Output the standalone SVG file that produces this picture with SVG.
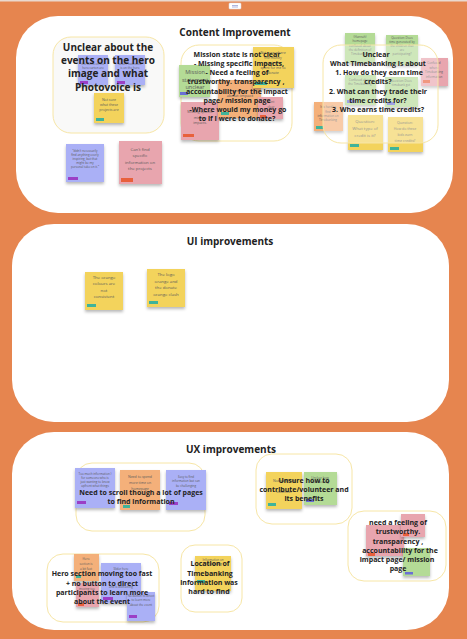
<svg xmlns="http://www.w3.org/2000/svg" width="467" height="639" viewBox="0 0 467 639">
<defs>
<filter id="sh" x="-20%" y="-20%" width="140%" height="150%"><feDropShadow dx="0" dy="2" stdDeviation="1.4" flood-color="#000" flood-opacity="0.28"/></filter>
<style>
.panel{fill:#fff}
.frame{fill:#fff;fill-opacity:0.35;stroke:#F7E6A6;stroke-width:1}
.blue{fill:#AAB0F6}.yel{fill:#F3D35B}.pink{fill:#E8A5AE}.grn{fill:#B4DB96}.org{fill:#F4B07A}
.note{filter:url(#sh)}
.tp{fill:#9B3FC6}.tt{fill:#3FB39A}.tr{fill:#E8603C}.tv{fill:#6A6FD6}
.h{font-family:"Open Sans","Liberation Sans",sans-serif;font-weight:700;fill:#222;text-anchor:middle}
.ti{font-size:10px}.t10{font-size:10px}.t7{font-size:7px}
.n{font-family:"Open Sans","Liberation Sans",sans-serif;fill:#5a5a5a;text-anchor:middle}
.s3{font-size:3px}.s35{font-size:3.5px}.s4{font-size:4.3px}.s5{font-size:5.5px}
</style>
</defs>
<rect x="0" y="0" width="467" height="639" fill="#E6854F"/>
<rect x="0" y="0" width="467" height="1.5" fill="#ead9cf"/>
<g id="toolbar-icon"><rect x="229" y="3" width="12" height="6" rx="1" fill="#fff" stroke="#d8dbe6" stroke-width="0.5"/><rect x="232" y="5" width="6" height="0.8" fill="#9aa3d8"/><rect x="232" y="6.6" width="6" height="0.8" fill="#9aa3d8"/></g>

<g id="panel-content">
<rect class="panel" x="16" y="16" width="437" height="197" rx="42"/>
<text class="h ti" x="235" y="36">Content Improvement</text>
</g>
<g id="panel-ui">
<rect class="panel" x="12" y="224" width="437" height="198" rx="42"/>
<text class="h ti" x="230" y="245">UI improvements</text>
</g>
<g id="panel-ux">
<rect class="panel" x="12" y="432" width="437" height="198" rx="42"/>
<text class="h ti" x="231" y="453">UX improvements</text>
</g>

<g id="connectors"></g>

<!-- Frame 1 -->
<g id="frame-hero">
<rect x="53" y="37" width="111" height="96" rx="18" fill="#f9f9f8" stroke="#F7E6A6" stroke-width="1"/>
<g id="note-hero-1"><rect class="note blue" x="78" y="55" width="30" height="30"/><rect class="tp" x="80" y="81" width="8" height="3"/><text class="n s3" x="93" y="65">the items on the</text><text class="n s3" x="93" y="69">hero carton are</text></g>
<g id="note-hero-2"><rect class="note blue" x="115" y="55" width="30" height="30"/><rect class="tp" x="117" y="81" width="8" height="3"/><text class="n s3" x="130" y="65">what Photovoice</text><text class="n s3" x="130" y="69">is on the hero</text></g>
<g id="note-projects"><rect class="note yel" x="94" y="93" width="30" height="30"/><rect class="tt" x="96" y="118" width="8" height="3"/><text class="n s35" x="109" y="101">Not sure</text><text class="n s35" x="109" y="106">what these</text><text class="n s35" x="109" y="111">projects are</text></g>
<text class="h t10" x="108" y="51">Unclear about the</text>
<text class="h t10" x="108" y="64">events on the hero</text>
<text class="h t10" x="108" y="77">image and what</text>
<text class="h t10" x="108" y="91">Photovoice is</text>
</g>
<g id="note-inspiring"><rect class="note blue" x="66" y="144" width="38" height="38"/><rect class="tp" x="68" y="177" width="10" height="3"/><text class="n s3" x="85" y="152">“didn't necessarily</text><text class="n s3" x="85" y="156">find anything overly</text><text class="n s3" x="85" y="160">inspiring, but that</text><text class="n s3" x="85" y="164">might be my</text><text class="n s3" x="85" y="168">personal take on it.”</text></g>
<g id="note-cantfind"><rect class="note pink" x="119" y="141" width="43" height="43"/><rect class="tr" x="121" y="178" width="12" height="4"/><text class="n s4" x="140" y="151">Can't find</text><text class="n s4" x="140" y="157">specific</text><text class="n s4" x="140" y="164">information on</text><text class="n s4" x="140" y="170">the projects</text></g>

<!-- Frame 2 -->
<g id="frame-mission">
<rect class="frame" x="181" y="45" width="111" height="96" rx="18"/>
<g id="note-mission-unclear"><rect class="note grn" x="179" y="65" width="31" height="32"/><rect class="tv" x="180" y="92" width="8" height="3"/><text class="n s5" x="195" y="74">Mission</text><text class="n s5" x="195" y="82">statement</text><text class="n s5" x="195" y="89">unclear</text></g>
<g id="note-missing"><rect class="note pink" x="181" y="102" width="38" height="38"/><rect class="tr" x="183" y="134" width="11" height="3"/><text class="n s35" x="200" y="113">Missing specific</text><text class="n s35" x="200" y="119">mission</text><text class="n s35" x="200" y="124">impacts.</text></g>
<g id="note-impact"><rect class="note org" x="218" y="80" width="43" height="38"/><rect class="tt" x="221" y="112" width="8" height="3"/><text class="n s4" x="240" y="92">unclear</text><text class="n s4" x="240" y="97">about impact</text></g>
<g id="note-money"><rect class="note yel" x="253" y="47" width="41" height="41"/><rect class="tt" x="255" y="82" width="12" height="3"/><text class="n s35" x="273" y="54">Not sure where</text><text class="n s35" x="273" y="59">the money</text><text class="n s35" x="273" y="64">is going to</text><text class="n s35" x="273" y="69">spent for me to</text><text class="n s35" x="273" y="74">donate</text></g>
<g id="note-dont"><rect class="note pink" x="258" y="97" width="25" height="22"/><rect class="tr" x="260" y="115" width="6" height="3"/><text class="n s3" x="271" y="103">dont</text><text class="n s3" x="271" y="108">clear</text></g>
<text class="h t7" x="237" y="57">Mission state is not clear</text>
<text class="h t7" x="239" y="66">- Missing specific impacts,</text>
<text class="h t7" x="237" y="75">- Need a feeling of</text>
<text class="h t7" x="236" y="84">trustworthy. transparency ,</text>
<text class="h t7" x="237" y="94">accountability for the impact</text>
<text class="h t7" x="237" y="103">page/ mission page</text>
<text class="h t7" x="238" y="112">-Where would my money go</text>
<text class="h t7" x="237" y="121">to if I were to donate?</text>
</g>

<!-- Frame 3 -->
<g id="frame-timebanking">
<g id="note-tb-1"><rect class="note grn" x="345" y="33" width="30" height="30"/><text class="n s3" x="360" y="38">(Hannah)</text><text class="n s3" x="360" y="42">homepage</text><text class="n s3" x="360" y="47">confused about</text><text class="n s3" x="360" y="51">the definition of</text><text class="n s3" x="360" y="55">Timebanking</text></g>
<g id="note-tb-2"><rect class="note grn" x="386" y="35" width="32" height="30"/><text class="n s3" x="402" y="39">Question: Does</text><text class="n s3" x="402" y="43">time generated by</text><text class="n s3" x="402" y="47">the children that</text><text class="n s3" x="402" y="51">are</text><text class="n s3" x="402" y="55">participating?</text></g>
<g id="note-tb-3"><rect class="note pink" x="421" y="58" width="27" height="28"/><rect class="tr" x="423" y="80" width="7" height="3"/><text class="n s3" x="434" y="64">Confused</text><text class="n s3" x="434" y="69">where</text><text class="n s3" x="434" y="73">Timebanking</text><text class="n s3" x="434" y="78">information</text></g>
<g id="note-tb-4"><rect class="note grn" x="345" y="75" width="31" height="30"/><rect class="tv" x="347" y="100" width="8" height="3"/><text class="n s3" x="360" y="81">Confused about</text><text class="n s3" x="360" y="85">the Timebanking</text></g>
<g id="note-tb-5"><rect class="note grn" x="385" y="77" width="33" height="30"/><rect class="tv" x="387" y="102" width="8" height="3"/><text class="n s3" x="401" y="82">Question: Does</text><text class="n s3" x="401" y="86">timebank get</text></g>
<g id="note-tb-6"><rect class="note org" x="314" y="102" width="29" height="29"/><rect class="tt" x="316" y="126" width="7" height="3"/><text class="n s3" x="328" y="108">It is hard to</text><text class="n s3" x="328" y="113">find</text><text class="n s3" x="328" y="117">information on</text><text class="n s3" x="328" y="121">Timebanking</text></g>
<g id="note-tb-7"><rect class="note yel" x="348" y="115" width="35" height="35"/><rect class="tt" x="350" y="144" width="9" height="3"/><text class="n s4" x="365" y="123">Question:</text><text class="n s4" x="365" y="130">What type of</text><text class="n s4" x="365" y="137">credit is it?</text></g>
<g id="note-tb-8"><rect class="note yel" x="388" y="117" width="35" height="35"/><rect class="tt" x="390" y="147" width="9" height="3"/><text class="n s35" x="405" y="124">Question:</text><text class="n s35" x="405" y="130">How do these</text><text class="n s35" x="405" y="136">kids earn</text><text class="n s35" x="405" y="142">time credits?</text></g>
<rect class="frame" x="323" y="45" width="115" height="98" rx="18" fill-opacity="0.45"/>
<text class="h t7" x="376" y="57">Unclear</text>
<text class="h t7" x="378" y="66">What Timebanking is about</text>
<text class="h t7" x="379" y="75">1. How do they earn time</text>
<text class="h t7" x="378" y="84">credits?</text>
<text class="h t7" x="378" y="94">2. What can they trade their</text>
<text class="h t7" x="378" y="103">time credits for?</text>
<text class="h t7" x="378" y="112">3. Who earns time credits?</text>
</g>

<!-- Panel 2 notes -->
<g id="note-orange-colours"><rect class="note yel" x="85" y="272" width="38" height="38"/><rect class="tt" x="87" y="304" width="9" height="3"/><text class="n s4" x="104" y="279">The orange</text><text class="n s4" x="104" y="285">colours are</text><text class="n s4" x="104" y="292">not</text><text class="n s4" x="104" y="298">consistent</text></g>
<g id="note-logo-clash"><rect class="note yel" x="147" y="269" width="38" height="38"/><rect class="tt" x="149" y="301" width="9" height="3"/><text class="n s4" x="166" y="276">The logo</text><text class="n s4" x="166" y="283">orange and</text><text class="n s4" x="166" y="289">the donate</text><text class="n s4" x="166" y="296">orange clash</text></g>

<!-- Panel 3 -->
<g id="frame-scroll">
<rect class="frame" x="76" y="463" width="129" height="68" rx="16"/>
<g id="note-scroll-1"><rect class="note blue" x="75" y="468" width="40" height="40"/><rect class="tp" x="77" y="501" width="9" height="3"/><text class="n s3" x="95" y="475">Too much information )</text><text class="n s3" x="95" y="479">for someone who is</text><text class="n s3" x="95" y="483">just wanting to know</text><text class="n s3" x="95" y="487">upfront what things</text></g>
<g id="note-scroll-2"><rect class="note org" x="120" y="470" width="40" height="40"/><rect class="tt" x="123" y="505" width="7" height="3"/><text class="n s35" x="140" y="478">Need to spend</text><text class="n s35" x="140" y="484">more time on</text><text class="n s35" x="140" y="490">homepage</text></g>
<g id="note-scroll-3"><rect class="note blue" x="166" y="470" width="40" height="40"/><rect class="tp" x="169" y="502" width="9" height="3"/><text class="n s3" x="186" y="478">Easy to find</text><text class="n s3" x="186" y="482">information but can</text><text class="n s3" x="186" y="487">be challenging</text></g>
<text class="h t7" x="141" y="495">Need to scroll though a lot of pages</text>
<text class="h t7" x="141" y="504">to find information</text>
</g>
<g id="frame-volunteer">
<rect class="frame" x="256" y="454" width="96" height="70" rx="16"/>
<g id="note-vol-1"><rect class="note yel" x="266" y="472" width="36" height="37"/><rect class="tt" x="268" y="503" width="8" height="3"/><text class="n s35" x="284" y="482">Not sure how</text><text class="n s35" x="284" y="493">volunteer</text></g>
<g id="note-vol-2"><rect class="note grn" x="304" y="472" width="33" height="33"/><rect class="tv" x="306" y="499" width="8" height="3"/><text class="n s3" x="320" y="479">Unclear how</text><text class="n s3" x="320" y="483">volunteering</text></g>
<text class="h t7" x="304" y="483">Unsure how to</text>
<text class="h t7" x="304" y="492">contribute/volunteer and</text>
<text class="h t7" x="304" y="501">its benefits</text>
</g>
<g id="frame-trust">
<rect class="frame" x="348" y="511" width="98" height="70" rx="16"/>
<g id="note-trust-1"><rect class="note pink" x="366" y="525" width="38" height="31"/><rect class="tr" x="368" y="553" width="7" height="3"/></g>
<g id="note-trust-2"><rect class="note pink" x="401" y="514" width="24" height="23"/><rect class="tr" x="403" y="533" width="6" height="3"/></g>
<g id="note-trust-3"><rect class="note grn" x="403" y="548" width="27" height="28"/><rect class="tv" x="405" y="572" width="8" height="2.5"/></g>
<text class="h t7" x="398" y="525">need a feeling of</text>
<text class="h t7" x="398" y="534">trustworthy.</text>
<text class="h t7" x="398" y="544">transparency ,</text>
<text class="h t7" x="400" y="553">accountability for the</text>
<text class="h t7" x="397" y="562">impact page/ mission</text>
<text class="h t7" x="398" y="571">page</text>
</g>
<g id="frame-hero-fast">
<rect class="frame" x="47" y="554" width="112" height="68" rx="16"/>
<g id="note-fast-1"><rect class="note org" x="74" y="554" width="25" height="27"/><rect class="tt" x="76" y="575" width="5" height="3"/><text class="n s3" x="86" y="560">Hero</text><text class="n s3" x="86" y="565">section is</text><text class="n s3" x="86" y="570">a bit fast</text></g>
<g id="note-fast-2"><rect class="note blue" x="101" y="563" width="40" height="40"/><rect class="tp" x="103" y="597" width="10" height="3"/><text class="n s3" x="121" y="570">Slider here</text><text class="n s3" x="121" y="588">and is distracting</text></g>
<g id="note-fast-3"><rect class="note pink" x="76" y="583" width="23" height="24"/><rect class="tr" x="78" y="603" width="6" height="3"/><text class="n s3" x="87" y="590">moving too</text></g>
<g id="note-fast-4"><rect class="note blue" x="127" y="592" width="28" height="29"/><rect class="tp" x="129" y="615" width="8" height="3"/><text class="n s3" x="141" y="597">No button to direct</text><text class="n s3" x="141" y="601">to learn more</text><text class="n s3" x="141" y="606">about the event</text></g>
<text class="h t7" x="102" y="576">Hero section moving too fast</text>
<text class="h t7" x="102" y="586">+ no button to direct</text>
<text class="h t7" x="102" y="595">participants to learn more</text>
<text class="h t7" x="102" y="604">about the event</text>
</g>
<g id="frame-location">
<rect class="frame" x="181" y="545" width="61" height="67" rx="14"/>
<g id="note-location"><rect class="note yel" x="195" y="556" width="36" height="35"/><rect class="tt" x="197" y="580" width="8" height="3"/><text class="n s3" x="213" y="561">Information on</text><text class="n s3" x="213" y="565">Timebanking</text></g>
<text class="h t7" x="210" y="566">Location of</text>
<text class="h t7" x="210" y="576">Timebanking</text>
<text class="h t7" x="209" y="585">information was</text>
<text class="h t7" x="209" y="594">hard to find</text>
</g>
</svg>
